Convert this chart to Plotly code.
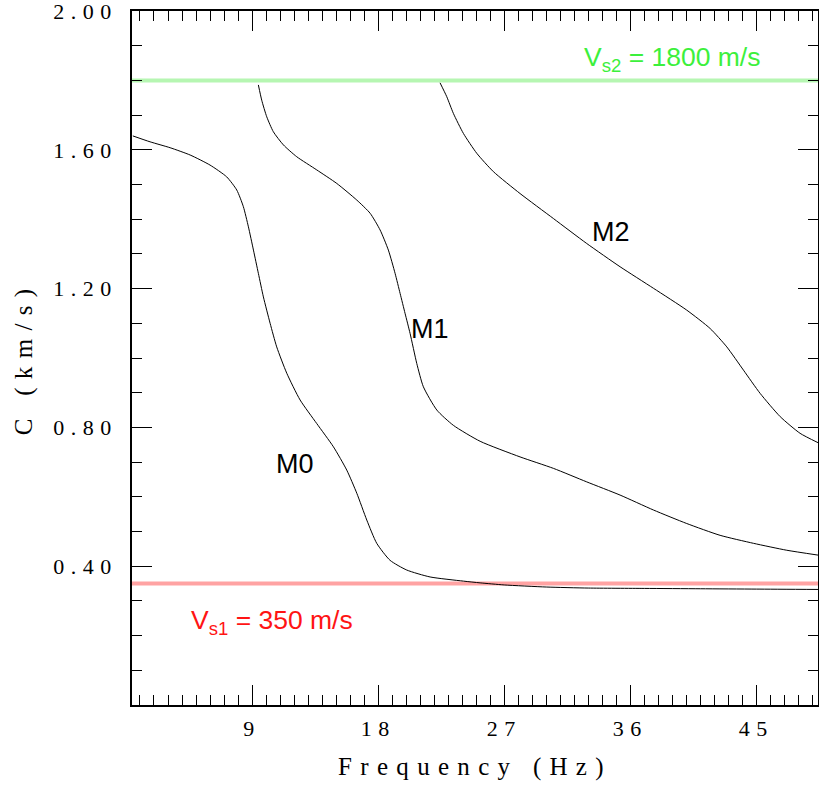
import plotly.graph_objects as go

# Shear-wave velocities of the two layers (m/s)
VS1 = 350
VS2 = 1800

# Phase-velocity dispersion curves: frequency (Hz) and velocity C (km/s)
M0_FREQ = [0.49, 1.72, 3.15, 4.58, 6.0, 7.19, 7.91, 8.38, 8.74, 9.10, 9.45, 9.81,
           10.29, 10.76, 11.48, 12.43, 13.62, 14.81, 15.76, 16.48, 17.19, 17.90,
           18.85, 20.04, 21.71, 24.09, 25.28, 27.0, 30.0, 33.0, 37.0, 41.0, 45.0, 49.4]
M0_VEL = [1.640, 1.623, 1.606, 1.585, 1.556, 1.522, 1.484, 1.436, 1.378, 1.311, 1.244, 1.176,
          1.100, 1.032, 0.956, 0.879, 0.811, 0.744, 0.677, 0.610, 0.533, 0.466,
          0.417, 0.389, 0.369, 0.357, 0.352, 0.346, 0.340, 0.337, 0.336, 0.335, 0.334, 0.333]

M1_FREQ = [9.45, 9.69, 10.05, 10.52, 11.24, 12.19, 13.62, 15.05, 16.48, 17.43, 18.14,
           18.73, 19.21, 19.57, 19.92, 20.28, 20.76, 21.23, 22.19, 23.37, 25.28,
           28.13, 30.51, 32.89, 35.27, 37.65, 40.03, 42.41, 44.79, 47.17, 49.4]
M1_VEL = [1.787, 1.743, 1.695, 1.652, 1.614, 1.580, 1.542, 1.503, 1.455, 1.417, 1.369,
          1.311, 1.244, 1.186, 1.129, 1.071, 0.984, 0.917, 0.850, 0.806, 0.760,
          0.715, 0.682, 0.643, 0.605, 0.562, 0.523, 0.489, 0.466, 0.446, 0.432]

M2_FREQ = [22.42, 22.9, 23.37, 24.09, 25.04, 26.23, 28.13, 30.51, 32.89, 35.27, 37.65,
           40.03, 41.70, 42.89, 44.08, 45.27, 46.70, 48.12, 49.4]
M2_VEL = [1.793, 1.753, 1.705, 1.647, 1.590, 1.537, 1.474, 1.402, 1.330, 1.263, 1.201,
          1.138, 1.085, 1.032, 0.965, 0.898, 0.831, 0.783, 0.756]

X_TICKS = [9, 18, 27, 36, 45]
Y_TICKS = [0.40, 0.80, 1.20, 1.60, 2.00]

MODE_LABELS = [("M0", 12.07, 0.694), ("M1", 21.71, 1.084), ("M2", 34.6, 1.363)]

SERIF = "Liberation Serif, Times New Roman, serif"
SANS = "Liberation Sans, Arial, Helvetica, sans-serif"

fig = go.Figure()

for fx, vy in [(M0_FREQ, M0_VEL), (M1_FREQ, M1_VEL), (M2_FREQ, M2_VEL)]:
    fig.add_trace(go.Scatter(
        x=fx, y=vy, mode="lines",
        line=dict(color="black", width=1, shape="spline", smoothing=0.6),
        showlegend=False, hoverinfo="skip",
    ))

# Half-space and top-layer shear velocities as reference lines
fig.add_hline(y=VS2 / 1000, line=dict(color="#b6f6b2", width=4), layer="below")
fig.add_hline(y=VS1 / 1000, line=dict(color="#ffa3a3", width=4), layer="below")

fig.add_annotation(x=32.54, y=1.862, xanchor="left", yanchor="middle", showarrow=False,
                   text=f"V<sub>s2</sub> = {VS2} m/s",
                   font=dict(family=SANS, size=26.5, color="#3cf03c"))
fig.add_annotation(x=4.53, y=0.240, xanchor="left", yanchor="middle", showarrow=False,
                   text=f"V<sub>s1</sub> = {VS1} m/s",
                   font=dict(family=SANS, size=26.5, color="#ff1414"))

for name, fx, vy in MODE_LABELS:
    fig.add_annotation(x=fx, y=vy, xanchor="center", yanchor="middle", showarrow=False,
                       text=name, font=dict(family=SANS, size=27, color="black"))

axis_common = dict(
    showline=True, linecolor="black", linewidth=1.5, mirror="ticks",
    ticks="inside", ticklen=20, tickwidth=1, tickcolor="black",
    showgrid=False, zeroline=False,
    tickfont=dict(family=SERIF, size=22, color="black"),
    ticklabeloverflow="allow",
)

fig.update_xaxes(
    **axis_common,
    range=[0.43, 49.4],
    tickmode="array", tickvals=X_TICKS,
    minor=dict(tickmode="linear", tick0=0, dtick=1, ticks="inside", ticklen=10,
               tickwidth=1, tickcolor="black"),
    title=dict(text="Frequency (Hz)", font=dict(family=SERIF, size=25, color="black"),
               standoff=17),
    ticklabelstandoff=3,
)
fig.update_yaxes(
    **axis_common,
    range=[0, 2.0],
    tickmode="array", tickvals=Y_TICKS, tickformat=".2f",
    minor=dict(tickmode="linear", tick0=0, dtick=0.1, ticks="inside", ticklen=10,
               tickwidth=1, tickcolor="black"),
    title=dict(text="C (km/s)", font=dict(family=SERIF, size=25, color="black"),
               standoff=40),
    ticklabelstandoff=8,
)

fig.update_layout(
    width=819, height=787,
    margin=dict(l=132, r=1, t=11, b=82, autoexpand=False),
    plot_bgcolor="white", paper_bgcolor="white",
    showlegend=False,
)

# Wide letter spacing for the axis typography
spacing_css = """
var st = document.createElement('style');
st.textContent = '.xtick text, .ytick text { letter-spacing: 6.5px; } ' +
                 '.xtitle, .ytitle { letter-spacing: 8.3px; }';
document.head.appendChild(st);
"""

fig.write_html("out.html", post_script=spacing_css)
